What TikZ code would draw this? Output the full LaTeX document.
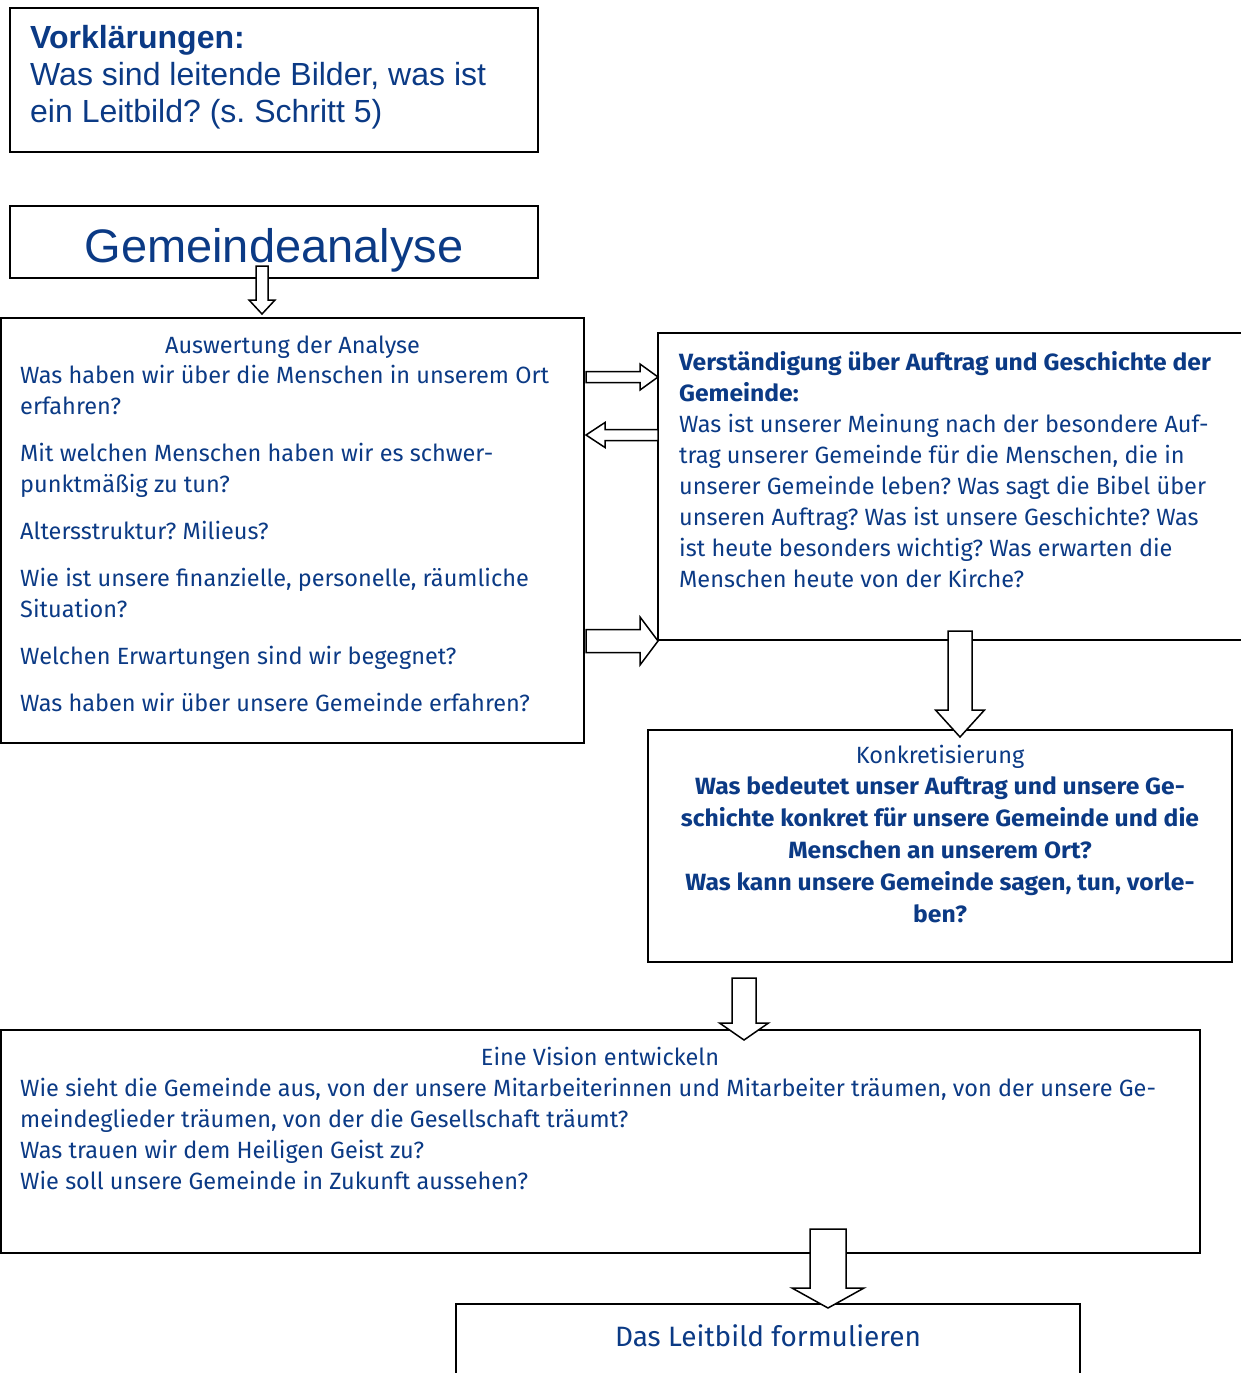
\documentclass[tikz,border=0pt]{standalone}
\usepackage{fontspec}
\usepackage{tikz}
\usetikzlibrary{positioning,calc}

\newfontfamily\bodyfont{Fira Sans}[BoldFeatures={FakeStretch=1.05}]
\newfontfamily\headfont{Liberation Sans}
\definecolor{navy}{HTML}{0B3A85}
\frenchspacing

% hollow block arrow: start, tip, shaft half width, head half width, head length
\newcommand{\blockarrow}[5]{%
  \draw[blk] let \p1=(#1), \p2=(#2),
      \n1={veclen(\x2-\x1,\y2-\y1)}, \n2={(\x2-\x1)/\n1}, \n3={(\y2-\y1)/\n1} in
    ({\x1-\n3*#3},{\y1+\n2*#3}) -- ({\x2-\n2*#5-\n3*#3},{\y2-\n3*#5+\n2*#3})
    -- ({\x2-\n2*#5-\n3*#4},{\y2-\n3*#5+\n2*#4}) -- (\p2)
    -- ({\x2-\n2*#5+\n3*#4},{\y2-\n3*#5-\n2*#4})
    -- ({\x2-\n2*#5+\n3*#3},{\y2-\n3*#5-\n2*#3})
    -- ({\x1+\n3*#3},{\y1-\n2*#3}) -- cycle;}

\begin{document}
\begin{tikzpicture}[
      x=1pt, y=-1pt,
      every node/.style={text=navy,inner sep=0pt},
      box/.style={draw=black,line width=1.5pt,outer sep=0pt},
      txt/.style={font=\bodyfont\fontsize{23.5}{31}\selectfont,align=left},
      blk/.style={draw=black,line width=1.5pt,fill=white,line join=miter},
    ]
      \useasboundingbox (0,0) rectangle (1241,1373);

      % boxes
      \node[box,minimum width=528,minimum height=144] (vork) at (274,80) {};
      \node[box,minimum width=528,minimum height=72]  (gem)  at (274,242) {};
      \node[box,minimum width=583,minimum height=425] (ana)  at (292.5,530.5) {};
      \node[box,minimum width=587,minimum height=307] (ver)  at (951.5,486.5) {};
      \node[box,minimum width=584,minimum height=232] (konk) at (940,846) {};
      \node[box,minimum width=1199,minimum height=223] (vis) at (600.5,1141.5) {};
      \node[box,minimum width=624,minimum height=86]  (leit) at (768,1347) {};

      % texts (multi-line nodes sit on the baseline of their last line)
      \node[anchor=base west,align=left,font=\headfont\fontsize{32}{37}\selectfont]
        (vorkt) at ($(vork.north west)+(20,114)$)
        {\textbf{Vorklärungen:}\\Was sind leitende Bilder, was ist\\ein Leitbild? (s. Schritt 5)};
      \node[anchor=base,font=\headfont\fontsize{47}{50}\selectfont]
        (gemt) at ($(gem.south)+(0,-16)$) {Gemeindeanalyse};

      \node[txt,anchor=base] (anat) at ($(ana.north)+(0,35)$) {Auswertung der Analyse};
      \node[txt,anchor=base west] (anab) at ($(ana.north west)+(19,393)$)
        {Was haben wir über die Menschen in unserem Ort\\erfahren?\\[16pt]
         Mit welchen Menschen haben wir es schwer-\\punktmäßig zu tun?\\[16pt]
         Altersstruktur? Milieus?\\[16pt]
         Wie ist unsere finanzielle, personelle, räumliche\\Situation?\\[16pt]
         Welchen Erwartungen sind wir begegnet?\\[16pt]
         Was haben wir über unsere Gemeinde erfahren?};

      \node[txt,anchor=base west] (verb) at ($(ver.north west)+(21,254)$)
        {\textbf{Verständigung über Auftrag und Geschichte der}\\\textbf{Gemeinde:}\\
         Was ist unserer Meinung nach der besondere Auf-\\trag unserer Gemeinde für die Menschen, die in\\
         unserer Gemeinde leben? Was sagt die Bibel über\\unseren Auftrag? Was ist unsere Geschichte? Was\\
         ist heute besonders wichtig? Was erwarten die\\Menschen heute von der Kirche?};

      \node[txt,anchor=base,align=center,font=\bodyfont\fontsize{23.5}{31.8}\selectfont]
        (konkt) at ($(konk.north)+(0,192)$)
        {Konkretisierung\\\textbf{Was bedeutet unser Auftrag und unsere Ge-}\\
         \textbf{schichte konkret für unsere Gemeinde und die}\\\textbf{Menschen an unserem Ort?}\\
         \textbf{Was kann unsere Gemeinde sagen, tun, vorle-}\\\textbf{ben?}};

      \node[txt,anchor=base] (vist) at ($(vis.north)+(-0.5,35)$) {Eine Vision entwickeln};
      \node[txt,anchor=base west] (visb) at ($(vis.north west)+(19,159)$)
        {Wie sieht die Gemeinde aus, von der unsere Mitarbeiterinnen und Mitarbeiter träumen, von der unsere Ge-\\
         meindeglieder träumen, von der die Gesellschaft träumt?\\
         Was trauen wir dem Heiligen Geist zu?\\
         Wie soll unsere Gemeinde in Zukunft aussehen?};

      \node[anchor=base,font=\bodyfont\fontsize{28}{32}\selectfont]
        (leitt) at ($(leit.north)+(0,42)$) {Das Leitbild formulieren};

      % block arrows
      \blockarrow{$(gem.south)+(-12,-12)$}{$(ana.north)+(-30.5,-4)$}{6}{13}{14}
      \blockarrow{$(ana.north east)+(2,59)$}{$(ver.north west)+(0,44)$}{5.5}{13}{18}
      \blockarrow{$(ver.north west)+(0,102)$}{$(ana.north east)+(2,117)$}{5.5}{12.5}{19}
      \blockarrow{$(ana.north east)+(2,323)$}{$(ver.south west)+(0,1)$}{11.5}{24}{18}
      \blockarrow{$(ver.south)+(8.5,-9)$}{$(konk.north)+(20,7)$}{12}{24.5}{27}
      \blockarrow{$(konk.south)+(-196,16)$}{$(vis.north)+(143.5,10)$}{12}{24.5}{17}
      \blockarrow{$(vis.south)+(227.5,-24)$}{$(leit.north)+(60,4)$}{18}{36}{20}
    \end{tikzpicture}
\end{document}
